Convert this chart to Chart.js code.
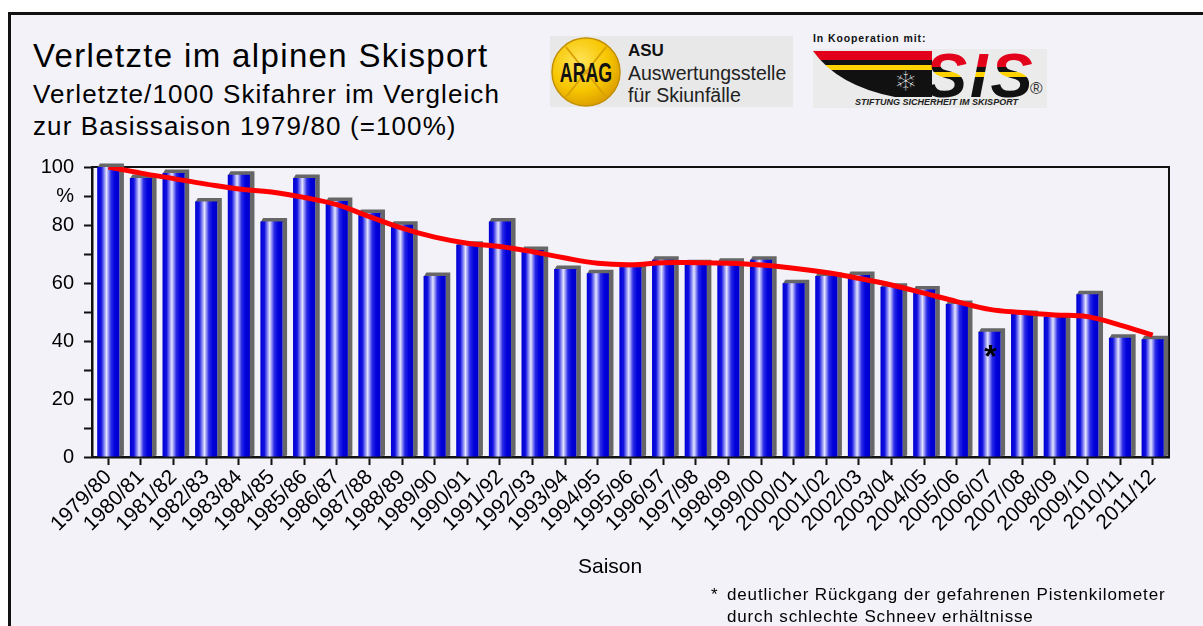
<!DOCTYPE html>
<html lang="de">
<head>
<meta charset="utf-8">
<title>Verletzte im alpinen Skisport</title>
<script src="https://cdn.jsdelivr.net/npm/chart.js@4.4.1/dist/chart.umd.min.js"></script>
<style>
  html, body { margin: 0; padding: 0; background: #fff; }
  body { width: 1203px; height: 626px; position: relative; overflow: hidden;
         font-family: 'Liberation Sans', Arial, sans-serif; color: #000; }
  #frame { position: absolute; left: 8px; top: 12px; width: 1230px; height: 660px;
           border: 3px solid #111; background: #f2f2f8; box-sizing: border-box; }
  #chart { position: absolute; left: 0; top: 0; }
  #logos { position: absolute; left: 0; top: 0; }
  .t { position: absolute; white-space: nowrap; line-height: 1; }
  #title { left: 33px; top: 39px; font-size: 33px; letter-spacing: 1.35px; }
  #sub1 { left: 33px; top: 81px; font-size: 26px; letter-spacing: 1.1px; }
  #sub2 { left: 33px; top: 113px; font-size: 26px; letter-spacing: 1.1px; }
  #xtitle { left: 578px; top: 555px; font-size: 21px; }
  .note { font-size: 17px; letter-spacing: 0.85px; }
</style>
</head>
<body>
<div id="frame"></div>

<svg id="logos" width="1203" height="120" xmlns="http://www.w3.org/2000/svg">
  <defs>
    <radialGradient id="gold" cx="0.4" cy="0.35" r="0.7">
      <stop offset="0" stop-color="#ffe45a"/>
      <stop offset="0.6" stop-color="#f7c600"/>
      <stop offset="1" stop-color="#d99a00"/>
    </radialGradient>
    <linearGradient id="bands" gradientUnits="userSpaceOnUse" x1="0" y1="51" x2="0" y2="97">
      <stop offset="0" stop-color="#e3001b"/>
      <stop offset="0.2" stop-color="#e3001b"/>
      <stop offset="0.2" stop-color="#111"/>
      <stop offset="0.31" stop-color="#111"/>
      <stop offset="0.31" stop-color="#ffd200"/>
      <stop offset="0.41" stop-color="#ffd200"/>
      <stop offset="0.41" stop-color="#111"/>
      <stop offset="1" stop-color="#111"/>
    </linearGradient>
    <linearGradient id="letterBands" gradientUnits="userSpaceOnUse" x1="0" y1="52" x2="0" y2="97">
      <stop offset="0" stop-color="#e3001b"/>
      <stop offset="0.33" stop-color="#e3001b"/>
      <stop offset="0.33" stop-color="#111"/>
      <stop offset="0.44" stop-color="#111"/>
      <stop offset="0.44" stop-color="#ffd200"/>
      <stop offset="0.55" stop-color="#ffd200"/>
      <stop offset="0.55" stop-color="#111"/>
      <stop offset="1" stop-color="#111"/>
    </linearGradient>
    <clipPath id="wedge">
      <path d="M813,51 L932,51 L932,97 L895,97 Q838,86 813,51 Z"/>
    </clipPath>
  </defs>
  <!-- ARAG / ASU -->
  <rect x="550" y="36" width="243" height="71" fill="#e8e8e8"/>
  <circle cx="586" cy="72" r="34" fill="url(#gold)" stroke="#c38f00" stroke-width="1.5"/>
  <line x1="566" y1="47" x2="606" y2="97" stroke="#d9a200" stroke-width="2"/>
  <line x1="606" y1="47" x2="566" y2="97" stroke="#d9a200" stroke-width="2"/>
  <text x="586" y="82" text-anchor="middle" font-family="Liberation Sans, Arial" font-weight="bold"
        font-size="27" transform="translate(586 0) scale(0.66 1) translate(-586 0)" fill="#111">ARAG</text>
  <text x="628" y="56" font-family="Liberation Sans, Arial" font-weight="bold" font-size="17" fill="#111">ASU</text>
  <text x="628" y="80" font-family="Liberation Sans, Arial" font-size="19.5" fill="#222">Auswertungsstelle</text>
  <text x="628" y="102" font-family="Liberation Sans, Arial" font-size="19.5" fill="#222">für Skiunfälle</text>
  <!-- SIS -->
  <text x="813" y="42" font-family="Liberation Sans, Arial" font-weight="bold" font-size="10.5" letter-spacing="0.9" fill="#111">In Kooperation mit:</text>
  <rect x="813" y="49" width="234" height="59" fill="#ebebeb"/>
  <g clip-path="url(#wedge)">
    <rect x="813" y="51" width="127" height="46" fill="url(#bands)"/>
  </g>
  <text x="894" y="91" font-family="DejaVu Sans" font-size="28" fill="#fff" stroke="#111" stroke-width="1">❄</text>
  <text x="925" y="97" font-family="Liberation Sans, Arial" font-weight="bold" font-style="italic"
        font-size="63" letter-spacing="3" fill="url(#letterBands)">SIS</text>
  <text x="855" y="105" font-family="Liberation Sans, Arial" font-weight="bold" font-style="italic"
        font-size="9" textLength="163" fill="#222">STIFTUNG SICHERHEIT IM SKISPORT</text>
  <text x="1030" y="94" font-family="Liberation Sans, Arial" font-size="17" fill="#333">®</text>
</svg>

<div class="t" id="title">Verletzte im alpinen Skisport</div>
<div class="t" id="sub1">Verletzte/1000 Skifahrer im Vergleich</div>
<div class="t" id="sub2">zur Basissaison 1979/80 (=100%)</div>

<canvas id="chart" width="1203" height="626"></canvas>

<div class="t" id="xtitle">Saison</div>
<div class="t note" style="left:711px; top:586px;">*</div>
<div class="t note" style="left:727px; top:586px;">deutlicher Rückgang der gefahrenen Pistenkilometer</div>
<div class="t note" style="left:727px; top:608px;">durch schlechte Schneev erhältnisse</div>

<script>
const seasons = [
    '1979/80', '1980/81', '1981/82', '1982/83', '1983/84', '1984/85', '1985/86',
    '1986/87', '1987/88', '1988/89', '1989/90', '1990/91', '1991/92', '1992/93',
    '1993/94', '1994/95', '1995/96', '1996/97', '1997/98', '1998/99', '1999/00',
    '2000/01', '2001/02', '2002/03', '2003/04', '2004/05', '2005/06', '2006/07',
    '2007/08', '2008/09', '2009/10', '2010/11', '2011/12',
];

// injured per 1000 skiers, 1979/80 = 100
const injured = [
    100, 96.2, 97.9, 88.1, 97.3, 81.2, 96.2, 88.3, 84.1, 80.1, 62.4,
    73.2, 81.2, 71.4, 64.8, 63.4, 65.4, 68.0, 66.8, 67.3, 68.0, 59.9,
    62.4, 62.8, 58.7, 57.8, 52.8, 43.2, 49.3, 48.4, 56.1, 41.1, 40.6,
];

const trend = [
    100, 97.9, 96.0, 94.1, 92.4, 91.4, 89.5, 87.0, 82.9, 78.9, 75.8,
    73.7, 72.6, 70.8, 68.6, 66.8, 66.3, 67.0, 67.0, 66.8, 66.2, 65.1,
    63.6, 61.6, 59.3, 56.5, 53.6, 50.9, 49.8, 49.0, 48.4, 45.5, 42.0,
];

// y tick text for 0, 10, 20 ... 100
const yTickText = ['0', '', '20', '', '40', '', '60', '', '80', '%', '100'];

// seasons marked with an asterisk
const notedSeasons = ['2006/07'];

const BAR_PCT = 0.68;

Chart.defaults.font.family = "'Liberation Sans', Arial, sans-serif";
Chart.defaults.color = '#000';

function cylinderFill(c) {
    const xs = c.chart.scales.x;
    if (!xs || c.dataIndex == null) return '#0000dc';
    const cx = xs.getPixelForValue(c.dataIndex);
    const w = xs.width / seasons.length * BAR_PCT;
    if (!Number.isFinite(cx) || !Number.isFinite(w) || w <= 0) return '#0000dc';
    const g = c.chart.ctx.createLinearGradient(cx - w / 2, 0, cx + w / 2, 0);
    g.addColorStop(0, '#0000d4');
    g.addColorStop(0.18, '#1010e0');
    g.addColorStop(0.42, '#e4e4ff');
    g.addColorStop(0.62, '#2a2ae6');
    g.addColorStop(0.8, '#0000dc');
    g.addColorStop(1, '#0000c8');
    return g;
}

// grey side + top of the pseudo 3d bars
const barDepth = {
    id: 'barDepth',
    beforeDatasetDraw(chart, args) {
        if (args.index !== 0) return;
        const { ctx } = chart;
        const dx = 4.5, dy = 3.5;
        ctx.save();
        ctx.fillStyle = '#676767';
        args.meta.data.forEach(bar => {
            const { x, y, base, width } = bar.getProps(['x', 'y', 'base', 'width'], true);
            const l = x - width / 2, r = x + width / 2;
            ctx.beginPath();
            ctx.moveTo(l, y + 1);
            ctx.lineTo(l + dx * 0.6, y - dy);
            ctx.lineTo(r + dx, y - dy);
            ctx.lineTo(r + dx, base - 1);
            ctx.lineTo(r, base);
            ctx.lineTo(r, y + 1);
            ctx.closePath();
            ctx.fill();
        });
        ctx.restore();
    },
};

// top and right edge of the plot box
const plotBox = {
    id: 'plotBox',
    beforeDatasetsDraw(chart) {
        const { ctx, chartArea: a } = chart;
        ctx.save();
        ctx.strokeStyle = '#111';
        ctx.lineWidth = 2;
        ctx.beginPath();
        ctx.moveTo(a.left, a.top);
        ctx.lineTo(a.right, a.top);
        ctx.lineTo(a.right, a.bottom);
        ctx.stroke();
        ctx.restore();
    },
};

const noteMark = {
    id: 'noteMark',
    afterDatasetsDraw(chart) {
        const { ctx } = chart;
        const meta = chart.getDatasetMeta(0);
        ctx.save();
        ctx.fillStyle = '#000';
        ctx.font = "bold 32px 'Liberation Sans', Arial";
        ctx.textAlign = 'center';
        ctx.textBaseline = 'alphabetic';
        notedSeasons.forEach(s => {
            const bar = meta.data[seasons.indexOf(s)];
            if (bar) ctx.fillText('*', bar.x + 1, bar.y + 35);
        });
        ctx.restore();
    },
};

new Chart(document.getElementById('chart'), {
    type: 'bar',
    data: {
        labels: seasons,
        datasets: [
            {
                type: 'bar',
                label: 'Verletzte/1000 Skifahrer',
                data: injured,
                backgroundColor: cylinderFill,
                borderWidth: 0,
                categoryPercentage: 1,
                barPercentage: BAR_PCT,
                order: 2,
            },
            {
                type: 'line',
                label: 'Trend',
                data: trend,
                borderColor: '#ff0000',
                borderWidth: 5,
                tension: 0.4,
                pointRadius: 0,
                fill: false,
                order: 1,
            },
        ],
    },
    options: {
        responsive: false,
        animation: false,
        layout: { padding: { left: 0, top: 167, right: 34, bottom: 44 } },
        plugins: {
            legend: { display: false },
            tooltip: { enabled: false },
        },
        scales: {
            x: {
                offset: true,
                grid: { offset: false, drawOnChartArea: false, tickLength: 8, tickWidth: 2, tickColor: '#111' },
                border: { color: '#111', width: 2.5 },
                ticks: { minRotation: 45, maxRotation: 45, autoSkip: false, padding: 0, font: { size: 21 } },
                afterFit(axis) { axis.height = 125; },
            },
            y: {
                min: 0,
                max: 100,
                ticks: {
                    stepSize: 10,
                    padding: 10,
                    font: { size: 20 },
                    callback: v => yTickText[Math.round(v / 10)],
                },
                grid: { drawOnChartArea: false, tickLength: 8, tickWidth: 2, tickColor: '#111' },
                border: { color: '#111', width: 2.5 },
                afterFit(axis) { axis.width = 92; },
            },
        },
    },
    plugins: [barDepth, plotBox, noteMark],
});
</script>
</body>
</html>
